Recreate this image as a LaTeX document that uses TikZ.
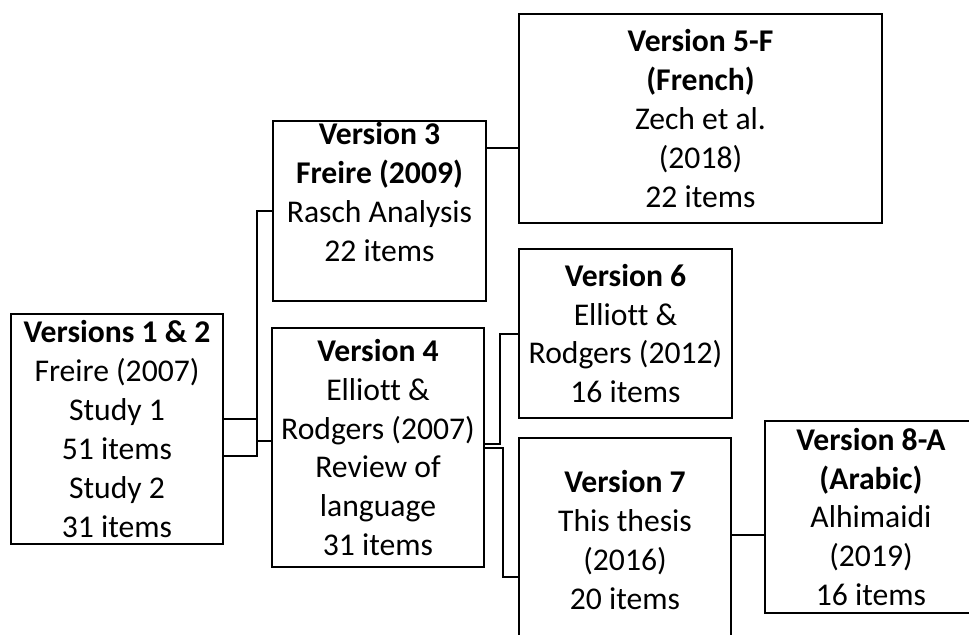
\documentclass[tikz,border=0pt]{standalone}
\usepackage{fontspec}
\setmainfont{Carlito}[Ligatures={NoCommon}]
\usepackage{tikz}
\usetikzlibrary{positioning}

\begin{document}
\begin{tikzpicture}[
    x=0.025cm, y=-0.025cm,
    box/.style={draw=black, line width=1.4pt, fill=white, align=center, inner sep=0pt, font=\fontsize{22.5}{27.7}\selectfont},
    conn/.style={draw=black, line width=1.3pt}
  ]
    \clip (0,0) rectangle (969,634);

    % First column
    \node[box, minimum width=5.3cm, minimum height=5.75cm] (v12) at (117,429) {\textbf{Versions 1 \& 2}\\Freire (2007)\\Study 1\\51 items\\Study 2\\31 items};

    % Second column
    \node[box, minimum width=5.325cm, minimum height=4.5cm] (v3) at (379.5,211) {\textbf{Version 3}\\\textbf{Freire (2009)}\\Rasch Analysis\\22 items\\\mbox{}};
    \node[box, minimum width=5.3cm, minimum height=5.975cm] (v4) at (378,447.5) {\textbf{Version 4}\\Elliott \&\\Rodgers (2007)\\Review of\\language\\31 items};

    % Third column
    \node[box, minimum width=9.075cm, minimum height=5.225cm] (v5) at (700.5,118.5) {\textbf{Version 5-F}\\\textbf{(French)}\\Zech et al.\\(2018)\\22 items};
    \node[box, minimum width=5.325cm, minimum height=4.225cm] (v6) at (625.5,333.5) {\textbf{Version 6}\\Elliott \&\\Rodgers (2012)\\16 items};
    \node[box, minimum width=5.3cm, minimum height=5.1cm] (v7) at (625,540) {\textbf{Version 7}\\This thesis\\(2016)\\20 items};

    % Last box
    \node[box, minimum width=5.3cm, minimum height=4.8cm] (v8) at (871,517) {\textbf{Version 8-A}\\\textbf{(Arabic)}\\Alhimaidi\\(2019)\\16 items};

    % Connectors
    \draw[conn] (v12.east |- 0,419) -- (257,419) |- (v3.west);
    \draw[conn] (v12.east |- 0,456) -- (257,456) -- (257,419) (257,441) -- (v4.west |- 0,441);
    \draw[conn] (v3.east |- 0,148) -- (v5.west |- 0,148);
    \draw[conn] (v4.east |- 0,444) -- (500,444) |- (v6.west |- 0,334);
    \draw[conn] (v4.east |- 0,448) -- (503,448) |- (v7.west |- 0,577);
    \draw[conn] (v7.east |- 0,535) -- (v8.west |- 0,535);
  \end{tikzpicture}
\end{document}
